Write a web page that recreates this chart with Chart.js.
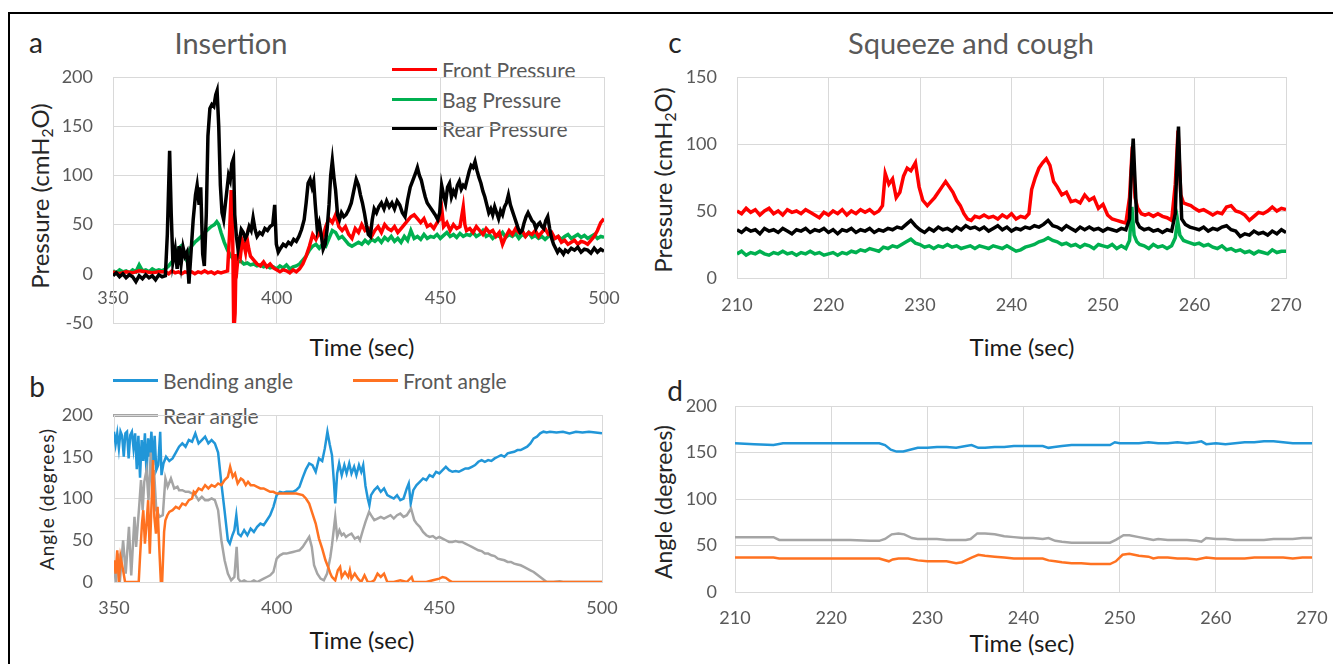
<!DOCTYPE html>
<html>
<head>
<meta charset="utf-8">
<script src="https://cdn.jsdelivr.net/npm/chart.js@4.4.0/dist/chart.umd.min.js"></script>
<style>
  body { margin: 0; background: #fff; }
  #page { position: relative; width: 1333px; height: 664px; overflow: hidden; background: #fff; font-family: Lato, "Open Sans", sans-serif; }
  #frame { position: absolute; left: 8px; top: 12px; width: 1330px; height: 660px; border-left: 2px solid #000; border-top: 2px solid #000; }
  canvas { position: absolute; }
  .txt { position: absolute; white-space: nowrap; transform: translate(-50%, -50%); line-height: 1; }
  .ytitle { position: absolute; white-space: nowrap; transform: translate(-50%, -50%) rotate(-90deg); line-height: 1; color: #262626; }
  .leg { position: absolute; white-space: nowrap; color: #595959; line-height: 1; }
  .leg i { display: inline-block; vertical-align: middle; height: 3px; margin-right: 5px; }
  .leg span { vertical-align: middle; }
  sub { font-size: 0.65em; vertical-align: -0.25em; }
</style>
</head>
<body>
<div id="page">
  <div id="frame"></div>

  <div class="txt" style="left:36px;top:42px;font-size:28px;color:#262626">a</div>
  <div class="txt" style="left:231px;top:42px;font-size:29px;color:#595959">Insertion</div>
  <div class="txt" style="left:675px;top:42px;font-size:28px;color:#262626">c</div>
  <div class="txt" style="left:971px;top:42px;font-size:29px;color:#595959">Squeeze and cough</div>
  <div class="txt" style="left:37px;top:386px;font-size:28px;color:#262626">b</div>
  <div class="txt" style="left:675px;top:390px;font-size:28px;color:#262626">d</div>

  <div class="ytitle" style="left:42px;top:196px;font-size:24px">Pressure (cmH<sub>2</sub>O)</div>
  <div class="ytitle" style="left:665px;top:180px;font-size:24px">Pressure (cmH<sub>2</sub>O)</div>
  <div class="ytitle" style="left:46px;top:499px;font-size:19px;letter-spacing:1px">Angle (degrees)</div>
  <div class="ytitle" style="left:663px;top:502px;font-size:23px">Angle (degrees)</div>

  <div class="txt" style="left:362px;top:347px;font-size:24px;color:#1a1a1a">Time (sec)</div>
  <div class="txt" style="left:362px;top:640px;font-size:24px;color:#1a1a1a">Time (sec)</div>
  <div class="txt" style="left:1022px;top:347px;font-size:24px;color:#1a1a1a">Time (sec)</div>
  <div class="txt" style="left:1022px;top:643px;font-size:24px;color:#1a1a1a">Time (sec)</div>

  <div id="legA"></div>
  <div id="legB"></div>

  <canvas id="chartA" width="620" height="280" style="left:0px;top:60px"></canvas>
  <canvas id="chartB" width="620" height="269" style="left:0px;top:395px"></canvas>
  <canvas id="chartC" width="693" height="260" style="left:640px;top:60px"></canvas>
  <canvas id="chartD" width="693" height="274" style="left:640px;top:390px"></canvas>
</div>

<script>
// ---- data: [time (sec), value] ----

// panel a: insertion, pressure (cmH2O)
const frontPressureA = [[350,2],[352,0],[354,2],[356,1],[358,3],[360,2],[362,1],[364,2],[366,2],[367,0],[368,3],[369,1],[370,2],[371,0],[372,2],[373,1],[374,2],[375,0],[376,2],[377,1],[378,3],[379,1],[380,2],[381,0],[382,2],[383,1],[384,2],[385,3],[385.6,40],[386.1,85],[386.5,60],[386.9,-60],[387.3,-40],[387.6,20],[388,10],[388.5,28],[389,20],[389.5,34],[390,30],[390.5,22],[391,35],[391.5,25],[392,18],[393,14],[394,10],[395,8],[396,12],[397,7],[398,10],[399,6],[400,4],[401,2],[402,4],[403,3],[404,1],[405,4],[406,2],[407,5],[408,10],[409,18],[410,28],[411,40],[412,35],[413,42],[414,36],[415,48],[416,56],[417,52],[418,60],[419,48],[420,44],[421,48],[422,40],[423,36],[424,46],[425,42],[426,50],[427,44],[428,46],[429,38],[430,44],[431,48],[432,42],[433,50],[434,46],[435,44],[436,48],[437,42],[438,46],[439,50],[440,54],[441,58],[442,60],[443,56],[444,52],[445,56],[446,48],[447,50],[448,46],[449,52],[450,56],[450.5,64],[451,48],[452,52],[453,44],[454,50],[455,46],[456,48],[457,68],[457.5,50],[458,44],[459,46],[460,42],[461,48],[462,44],[463,40],[464,46],[465,42],[466,44],[467,38],[468,42],[469,30],[470,38],[471,44],[472,40],[473,46],[474,42],[475,44],[476,38],[477,42],[478,40],[479,44],[480,38],[481,42],[482,46],[483,40],[484,42],[485,36],[486,38],[487,32],[488,34],[489,30],[490,32],[491,34],[492,30],[493,33],[494,32],[495,30],[496,34],[497,38],[498,44],[499,52],[500,56]];

const bagPressureA = [[350,3],[351,1],[352,4],[353,2],[354,3],[355,1],[356,4],[357,2],[358,9],[359,3],[360,4],[361,2],[362,5],[363,3],[364,4],[365,3],[366,5],[367,8],[368,12],[369,18],[370,26],[370.7,28],[371.5,20],[372.3,15],[373,22],[374,28],[375,32],[376,35],[377,38],[378,42],[379,45],[380,48],[381,50],[381.7,53],[382.3,50],[383,42],[384,32],[385,24],[386,18],[387,14],[388,12],[389,13],[390,10],[391,11],[392,9],[393,10],[394,8],[395,9],[396,7],[397,8],[398,6],[399,7],[400,5],[401,8],[402,6],[403,9],[404,5],[405,7],[406,8],[407,10],[408,14],[409,18],[410,24],[411,28],[412,30],[413,26],[414,30],[415,28],[416,36],[417,44],[418,42],[419,36],[420,38],[421,34],[422,30],[423,28],[424,30],[425,32],[426,30],[427,34],[428,31],[429,35],[430,33],[431,36],[432,32],[433,37],[434,34],[435,38],[436,33],[437,36],[438,32],[439,38],[440,34],[441,44],[442,36],[443,38],[444,35],[445,40],[446,36],[447,38],[448,37],[449,40],[450,36],[451,39],[452,42],[453,38],[454,40],[455,37],[456,41],[457,38],[458,40],[459,39],[460,42],[461,38],[462,40],[463,44],[464,38],[465,40],[466,36],[467,39],[468,38],[469,42],[470,37],[471,40],[472,38],[473,41],[474,36],[475,40],[476,38],[477,42],[478,37],[479,39],[480,36],[481,38],[482,35],[483,38],[484,40],[485,36],[486,38],[487,35],[488,38],[489,40],[490,36],[491,38],[492,40],[493,37],[494,39],[495,36],[496,38],[497,40],[498,36],[499,38],[500,37]];

const rearPressureA = [[350,-2],[351,1],[352,-3],[353,0],[354,-4],[355,-1],[356,-3],[357,-8],[358,-2],[359,-5],[360,-1],[361,-4],[362,-2],[363,-6],[364,-1],[365,-3],[366,-2],[366.6,40],[367.3,125],[367.8,60],[368.3,12],[369,25],[369.6,5],[370.2,28],[370.8,10],[371.4,27],[372,18],[372.6,22],[373.2,-10],[373.8,20],[374.5,55],[375.2,80],[375.7,90],[376.3,70],[376.8,88],[377.4,20],[377.9,8],[378.5,60],[379,140],[379.6,168],[380.2,172],[380.8,170],[381.4,182],[381.8,186],[382.3,150],[382.8,90],[383.3,62],[383.8,55],[384.3,70],[384.8,85],[385.3,100],[385.8,95],[386.3,112],[386.8,117],[387.2,60],[387.7,38],[388.2,25],[388.7,35],[389.2,45],[389.8,42],[390.4,36],[391,40],[391.6,48],[392.2,44],[392.8,57],[393.4,45],[394,38],[394.8,42],[395.6,40],[396.4,46],[397.2,44],[398,48],[398.8,50],[399.4,70],[399.9,30],[400.5,22],[401.2,26],[402,30],[402.8,28],[403.6,32],[404.4,30],[405.2,35],[406,33],[406.8,38],[407.6,45],[408.4,55],[409,72],[409.6,92],[410.2,96],[410.8,88],[411.3,94],[411.8,70],[412.4,45],[413,52],[413.6,40],[414.2,25],[414.8,30],[415.4,45],[416,70],[416.5,100],[417,115],[417.5,98],[418,85],[418.6,60],[419.2,55],[419.8,62],[420.5,58],[421.2,60],[422,65],[422.8,72],[423.6,85],[424.3,96],[425,90],[425.6,80],[426.2,72],[426.8,62],[427.4,50],[428,40],[428.6,38],[429.2,55],[429.8,66],[430.5,62],[431.2,68],[432,72],[432.8,66],[433.6,74],[434.4,68],[435.2,72],[436,66],[436.8,74],[437.6,70],[438.4,62],[439.2,58],[440,75],[440.8,88],[441.6,95],[442.4,102],[443,108],[443.6,100],[444.2,95],[444.8,86],[445.4,78],[446,72],[446.8,68],[447.6,64],[448.4,60],[449.2,55],[449.8,62],[450.4,90],[451,80],[451.6,72],[452.2,88],[452.8,92],[453.4,78],[454,84],[454.6,80],[455.2,90],[455.8,94],[456.4,86],[457,90],[457.6,88],[458.2,96],[458.8,104],[459.4,110],[460,108],[460.6,114],[461.2,105],[461.8,98],[462.4,92],[463,84],[463.6,78],[464.2,70],[464.8,62],[465.4,66],[466,60],[466.6,68],[467.2,62],[467.8,56],[468.4,64],[469,60],[469.6,68],[470.2,72],[470.8,80],[471.4,70],[472,64],[472.6,58],[473.2,52],[473.8,46],[474.4,42],[475,44],[475.6,52],[476.2,58],[476.8,62],[477.4,58],[478,54],[478.6,52],[479.2,46],[479.8,50],[480.4,52],[481,48],[481.6,46],[482.2,54],[482.8,58],[483.4,46],[484,36],[484.6,30],[485.2,26],[485.8,22],[486.4,25],[487,23],[487.6,20],[488.2,24],[489,22],[490,26],[491,24],[492,27],[493,22],[494,25],[495,24],[496,21],[497,26],[498,22],[499,25],[500,23]];

// panel b: insertion, angle (degrees)
const bendingAngleB = [[350,180],[350.5,165],[351,178],[351.5,160],[352,180],[352.5,175],[353,150],[353.5,178],[354,180],[354.5,148],[355,176],[355.5,180],[356,160],[356.5,178],[357,135],[357.5,175],[358,125],[358.5,170],[359,145],[359.5,178],[360,130],[360.5,172],[361,150],[361.5,180],[362,140],[362.5,175],[363,134],[363.6,140],[364.2,180],[364.6,128],[365.2,142],[366,150],[367,145],[368,148],[369,155],[370,162],[371,166],[372,162],[373,170],[374,168],[375,178],[376,166],[377,170],[378,174],[379,166],[380,170],[381,166],[382,155],[383,118],[384,85],[385,50],[385.6,46],[386.4,56],[387,62],[387.6,80],[388.2,58],[389,55],[390,62],[391,56],[392,64],[393,60],[394,66],[395,70],[396,68],[397,74],[398,80],[399,90],[400,104],[401,108],[402,107],[403,108],[404,108],[405,108],[406,110],[407,114],[408,125],[409,135],[410,142],[411,140],[412,132],[413,148],[414,145],[414.8,160],[415.6,180],[416.3,165],[417,152],[417.6,120],[418,94],[418.6,130],[419.2,142],[420,128],[420.8,140],[421.5,130],[422.3,142],[423,130],[423.8,138],[424.5,128],[425.3,140],[426,132],[426.6,140],[427.3,115],[428,100],[428.5,92],[429,104],[430,110],[431,114],[432,108],[433,112],[434,104],[435,102],[436,100],[437,104],[438,98],[439,100],[440,112],[440.6,118],[441.2,94],[442,110],[443,116],[444,120],[445,124],[446,122],[447,128],[448,126],[449,132],[450,130],[451,134],[452,138],[453,134],[454,132],[455,133],[456,132],[457,134],[458,136],[459,136],[460,138],[461,140],[462,144],[463,146],[464,144],[465,146],[466,145],[467,148],[468,150],[469,152],[470,150],[471,154],[472,155],[473,156],[474,158],[475,158],[476,160],[477,162],[478,166],[479,172],[480,174],[481,178],[482,180],[483,179],[484,180],[486,179],[488,180],[490,178],[492,180],[494,179],[496,180],[498,179],[500,178]];

const frontAngleB = [[350,26],[350.5,10],[351,38],[351.5,0],[352,30],[352.8,14],[353.4,0],[354,0],[356,0],[357.6,0],[358,30],[358.6,70],[359,86],[359.5,46],[360,70],[360.5,98],[361,34],[361.5,90],[362,146],[362.4,78],[362.9,58],[363.4,90],[363.9,42],[364.4,0],[364.8,0],[365.4,60],[365.8,74],[366.4,80],[367,84],[368,86],[369,90],[370,88],[371,94],[372,92],[373,98],[374,100],[374.5,108],[375,106],[376,112],[377,110],[378,116],[379,112],[380,116],[381,114],[382,118],[383,116],[384,122],[385,126],[385.7,138],[386.5,126],[387.2,130],[388,118],[389,124],[389.7,122],[390.5,116],[391.2,120],[392,116],[393,116],[394,114],[395,112],[396,112],[397,110],[398,108],[399,108],[400,106],[402,106],[404,106],[406,106],[408,104],[409,100],[410,94],[411,82],[412,70],[413,52],[414,40],[415,26],[416,16],[416.5,10],[417,6],[418,2],[418.8,14],[419.5,18],[420,6],[421,12],[422,6],[422.5,14],[423,4],[424,10],[425,4],[426,0],[427,8],[428,0],[429,0],[430,2],[431,10],[432,6],[433,10],[434,0],[436,0],[438,2],[440,0],[441.5,6],[442,0],[444,0],[446,0],[448,2],[450,4],[451,6],[452,5],[453,2],[454,0],[460,0],[470,0],[480,0],[490,0],[500,0]];

const rearAngleB = [[350,18],[350.6,0],[351.3,34],[351.8,0],[352.8,50],[353.6,10],[354.6,66],[355.3,8],[356.3,78],[356.8,42],[357.8,94],[358.3,122],[358.8,86],[359.3,120],[360,134],[360.6,98],[361.3,155],[361.8,106],[362.3,134],[363,86],[364,78],[365,80],[365.8,124],[366.5,114],[367.5,124],[368.5,112],[369.5,114],[370,110],[371,110],[372,108],[373,108],[374,106],[375,104],[376,98],[377,102],[378,98],[379,98],[380,100],[381,98],[382,86],[383,50],[384,26],[385,10],[386,2],[387,6],[387.7,42],[388.2,4],[389,0],[390,2],[391,0],[392,0],[393,2],[394,0],[395,2],[396,4],[397,6],[398,8],[399,12],[400,28],[401,32],[402,34],[403,34],[404,35],[405,36],[406,37],[407,38],[408,42],[409,48],[410,54],[410.8,42],[411.5,20],[412.5,10],[413.5,4],[414.5,2],[415.5,10],[416.5,30],[417,44],[418,78],[418.6,54],[419.3,62],[420,56],[420.6,58],[421.3,54],[422,56],[423,58],[424,52],[425,54],[425.6,50],[426.5,62],[427.3,72],[428.4,84],[429,80],[430,74],[431,76],[432,78],[433,76],[434,78],[435,80],[436,76],[437,80],[438,82],[439,78],[440,80],[441.3,88],[442.3,74],[443,70],[444,66],[445,60],[446,56],[447,54],[448,55],[449,52],[450,54],[451,52],[452,50],[453,48],[454,48],[455,49],[456,48],[457,48],[458,46],[459,44],[460,42],[461,40],[462,38],[463,37],[464,34],[465,34],[466,32],[467,31],[468,28],[469,27],[470,26],[471,24],[472,24],[473,22],[474,21],[475,20],[476,18],[477,16],[478,14],[479,12],[480,9],[481,6],[482,3],[483,0],[485,0],[487,1],[488,0],[490,0],[495,0],[500,0]];

// panel c: squeeze and cough, pressure (cmH2O)
const frontPressureC = [[210,50],[210.5,48],[211,52],[211.5,49],[212,51],[212.5,47],[213,50],[213.5,52],[214,48],[214.5,50],[215,47],[215.5,51],[216,49],[216.5,50],[217,48],[217.5,51],[218,49],[218.5,47],[219,45],[219.5,49],[220,47],[220.5,50],[221,48],[221.5,51],[222,47],[222.5,50],[223,48],[223.5,51],[224,49],[224.5,51],[225,48],[225.5,50],[225.9,54],[226.2,78],[226.6,70],[227,74],[227.4,60],[227.8,64],[228.2,76],[228.6,82],[229,80],[229.5,86],[229.9,68],[230.3,58],[230.8,54],[231.2,57],[231.6,60],[232,64],[232.4,68],[232.8,72],[233.2,68],[233.6,64],[234,58],[234.4,54],[234.8,48],[235.2,44],[235.6,43],[236,46],[236.5,45],[237,47],[237.5,45],[238,46],[238.5,44],[239,47],[239.5,45],[240,48],[240.5,44],[241,46],[241.5,45],[241.9,48],[242.2,66],[242.6,75],[243,82],[243.4,86],[243.8,89],[244.2,84],[244.6,72],[245,68],[245.5,62],[246,64],[246.5,57],[247,58],[247.5,56],[248,62],[248.5,58],[249,60],[249.5,52],[250,55],[250.5,47],[251,44],[251.5,43],[252,42],[252.5,41],[252.9,60],[253.2,98],[253.5,60],[253.8,52],[254.2,48],[254.6,47],[255,48],[255.5,46],[256,48],[256.5,46],[257,45],[257.5,43],[257.9,70],[258.2,110],[258.5,62],[258.8,56],[259.2,55],[259.6,54],[260,52],[260.5,50],[261,51],[261.5,49],[262,47],[262.5,49],[263,48],[263.5,53],[264,54],[264.5,50],[265,49],[265.5,47],[266,43],[266.5,46],[267,49],[267.5,48],[268,50],[268.5,53],[269,50],[269.5,52],[270,51]];

const bagPressureC = [[210,18],[210.5,20],[211,17],[211.5,19],[212,18],[212.5,20],[213,18],[213.5,17],[214,19],[214.5,18],[215,20],[215.5,18],[216,19],[216.5,17],[217,19],[217.5,18],[218,20],[218.5,18],[219,19],[219.5,17],[220,18],[220.5,19],[221,17],[221.5,19],[222,18],[222.5,20],[223,19],[223.5,21],[224,20],[224.5,22],[225,21],[225.5,20],[226,23],[226.5,22],[227,24],[227.5,23],[228,25],[228.5,27],[229,29],[229.5,26],[230,25],[230.5,23],[231,24],[231.5,22],[232,24],[232.5,23],[233,25],[233.5,23],[234,24],[234.5,22],[235,23],[235.5,24],[236,22],[236.5,24],[237,23],[237.5,22],[238,24],[238.5,23],[239,22],[239.5,24],[240,22],[240.5,20],[241,21],[241.5,23],[242,24],[242.5,25],[243,27],[243.5,28],[244,30],[244.5,28],[245,27],[245.5,25],[246,26],[246.5,24],[247,25],[247.5,23],[248,25],[248.5,24],[249,22],[249.5,25],[250,24],[250.5,23],[251,25],[251.5,22],[252,24],[252.5,22],[252.9,28],[253.15,53],[253.4,32],[253.7,27],[254,25],[254.5,24],[255,22],[255.5,25],[256,23],[256.5,24],[257,22],[257.5,24],[257.9,30],[258.15,43],[258.4,32],[258.8,28],[259.2,27],[259.6,26],[260,25],[260.5,26],[261,24],[261.5,25],[262,23],[262.5,22],[263,24],[263.5,21],[264,22],[264.5,20],[265,21],[265.5,19],[266,20],[266.5,18],[267,20],[267.5,19],[268,18],[268.5,21],[269,19],[269.5,20],[270,20]];

const rearPressureC = [[210,36],[210.5,34],[211,37],[211.5,35],[212,36],[212.5,33],[213,37],[213.5,35],[214,36],[214.5,34],[215,37],[215.5,35],[216,33],[216.5,36],[217,35],[217.5,37],[218,34],[218.5,36],[219,35],[219.5,37],[220,34],[220.5,36],[221,33],[221.5,36],[222,35],[222.5,37],[223,34],[223.5,36],[224,35],[224.5,37],[225,34],[225.5,36],[226,35],[226.5,37],[227,36],[227.5,38],[228,37],[228.5,40],[229,43],[229.5,39],[230,36],[230.5,34],[231,37],[231.5,35],[232,38],[232.5,36],[233,37],[233.5,35],[234,38],[234.5,36],[235,39],[235.5,37],[236,38],[236.5,36],[237,38],[237.5,35],[238,37],[238.5,39],[239,36],[239.5,38],[240,35],[240.5,37],[241,36],[241.5,38],[242,37],[242.5,39],[243,38],[243.5,40],[244,43],[244.5,39],[245,38],[245.5,36],[246,39],[246.5,37],[247,35],[247.5,38],[248,36],[248.5,38],[249,36],[249.5,37],[250,35],[250.5,37],[251,36],[251.5,35],[252,37],[252.5,36],[252.9,44],[253.1,80],[253.3,104],[253.45,80],[253.7,42],[254,38],[254.5,36],[255,37],[255.5,35],[256,36],[256.5,34],[257,36],[257.5,35],[257.9,48],[258.1,90],[258.25,113],[258.4,80],[258.6,44],[259,40],[259.5,38],[260,37],[260.5,36],[261,38],[261.5,35],[262,37],[262.5,36],[263,38],[263.5,39],[264,36],[264.5,35],[265,31],[265.5,33],[266,32],[266.5,35],[267,33],[267.5,34],[268,32],[268.5,35],[269,33],[269.5,36],[270,34]];

// panel d: squeeze and cough, angle (degrees)
const bendingAngleD = [[210,160],[212,159],[214,158],[215,160],[217,160],[220,160],[223,160],[225,160],[225.6,158],[226.2,153],[226.8,151],[227.5,151],[228.2,153],[229,155],[230,155],[231,156],[232,156],[233,155],[234,157],[234.6,158],[235.3,155],[236,155],[237,156],[238,156],[239,157],[240,157],[241,157],[242,157],[242.6,155],[243.2,156],[244,157],[245,158],[246,158],[247,158],[248,158],[249,158],[249.5,161],[250,160],[251,160],[252,160],[253,161],[254,160],[255,160],[256,161],[257,160],[258,161],[258.5,162],[259,159],[260,160],[261,159],[262,160],[263,161],[264,161],[265,162],[266,162],[267,161],[268,160],[269,160],[270,160]];

const frontAngleD = [[210,37],[212,37],[214,37],[214.6,36],[216,36],[218,36],[220,36],[222,36],[224,36],[225,36],[226,33],[226.4,35],[227,36],[228,36],[229,34],[230,33],[231,33],[232,33],[233,31],[233.6,32],[234,34],[234.6,37],[235.3,40],[236,39],[237,38],[238,37],[239,36],[240,36],[241,36],[242,36],[242.6,34],[243.3,33],[244,32],[245,31],[246,31],[247,30],[248,30],[249,30],[249.6,33],[250.3,40],[251,41],[252,39],[253,38],[253.5,36],[254,37],[255,37],[256,36],[257,36],[258,35],[259,37],[260,36],[261,36],[262,36],[263,36],[264,37],[265,37],[266,37],[267,37],[268,36],[269,37],[270,37]];

const rearAngleD = [[210,59],[212,59],[214,59],[214.6,56],[216,56],[218,56],[220,56],[222,56],[224,55],[225,55],[225.6,57],[226.3,62],[227,63],[227.6,62],[228.4,58],[229,57],[230,57],[231,57],[232,56],[233,56],[234,56],[234.5,57],[235.2,63],[236,63],[237,62],[238,60],[239,59],[240,58],[241,58],[242,57],[242.6,58],[243.3,55],[244,54],[245,53],[246,53],[247,53],[248,53],[249,53],[249.6,56],[250.4,61],[251,61],[252,59],[253,57],[253.5,56],[254,57],[255,56],[256,56],[257,56],[258,55],[258.5,54],[259,58],[260,57],[261,57],[262,56],[263,56],[264,56],[265,56],[266,57],[267,57],[268,57],[269,58],[270,58]];

// series names and colours
const pressureNames = ['Front Pressure', 'Bag Pressure', 'Rear Pressure'];
const pressureColors = ['#ff0000', '#00b050', '#000000'];
const angleNames = ['Bending angle', 'Front angle', 'Rear angle'];
const angleColors = ['#2196d8', '#ff7221', '#a5a5a5'];

const fontFamily = 'Lato, "Open Sans", sans-serif';
const gridColor = '#d9d9d9';
const tickColor = '#595959';

function lineSet(label, pts, color, width, order) {
  return {
    label: label,
    data: pts.map(p => ({ x: p[0], y: p[1] })),
    borderColor: color,
    backgroundColor: color,
    borderWidth: width,
    pointRadius: 0,
    tension: 0,
    fill: false,
    order: order
  };
}

// fixed axis sizes so the plot areas line up with the figure;
// the label overhang padding is zeroed, layout.padding does that job
function axes(o) {
  const x = {
    type: 'linear', min: o.xMin, max: o.xMax, position: o.xPos,
    ticks: { stepSize: o.xStep, color: tickColor, font: { family: fontFamily, size: 18 }, padding: o.xPad, maxRotation: 0, autoSkip: false },
    grid: { color: gridColor, drawTicks: false },
    border: { color: gridColor },
    afterFit: s => {
      if (o.xH !== undefined) s.height = o.xH;
      s.paddingLeft = 0; s.paddingRight = 0; s.paddingTop = 0; s.paddingBottom = 0;
    }
  };
  const y = {
    type: 'linear', min: o.yMin, max: o.yMax,
    ticks: { stepSize: o.yStep, color: tickColor, font: { family: fontFamily, size: 18 }, padding: o.yPad },
    grid: { color: gridColor, drawTicks: false },
    border: { color: gridColor },
    afterFit: s => {
      s.width = o.yW;
      s.paddingLeft = 0; s.paddingRight = 0; s.paddingTop = 0; s.paddingBottom = 0;
    }
  };
  return { x: x, y: y };
}

function makeChart(id, datasets, scales, pad) {
  return new Chart(document.getElementById(id), {
    type: 'line',
    data: { datasets: datasets },
    options: {
      responsive: false,
      animation: false,
      layout: { padding: pad },
      plugins: { legend: { display: false }, tooltip: { enabled: false } },
      scales: scales
    }
  });
}

function buildLegend(id, names, colors, spots) {
  const box = document.getElementById(id);
  names.forEach((n, i) => {
    const d = document.createElement('div');
    d.className = 'leg';
    d.style.left = spots[i][0] + 'px';
    d.style.top = spots[i][1] + 'px';
    d.style.fontSize = '21px';
    d.innerHTML = '<i style="width:45px;background:' + colors[i] + '"></i><span>' + n + '</span>';
    box.appendChild(d);
  });
}

makeChart('chartA', [
  lineSet(pressureNames[0], frontPressureA, pressureColors[0], 3.5, 1),
  lineSet(pressureNames[1], bagPressureA, pressureColors[1], 3.5, 2),
  lineSet(pressureNames[2], rearPressureA, pressureColors[2], 3.5, 0)
], axes({ xMin: 350, xMax: 500, xStep: 50, xPos: { y: 0 }, xPad: 14, yMin: -50, yMax: 200, yStep: 50, yPad: 20, yW: 113 }),
  { top: 17, right: 16, bottom: 17, left: 0 });

makeChart('chartB', [
  lineSet(angleNames[0], bendingAngleB, angleColors[0], 2.5, 2),
  lineSet(angleNames[1], frontAngleB, angleColors[1], 2.5, 0),
  lineSet(angleNames[2], rearAngleB, angleColors[2], 2.5, 1)
], axes({ xMin: 350, xMax: 500, xStep: 50, xPos: 'bottom', xPad: 15, xH: 82, yMin: 0, yMax: 200, yStep: 50, yPad: 21, yW: 114 }),
  { top: 20, right: 18, bottom: 0, left: 0 });

makeChart('chartC', [
  lineSet(pressureNames[0], frontPressureC, pressureColors[0], 3.5, 1),
  lineSet(pressureNames[1], bagPressureC, pressureColors[1], 3.5, 2),
  lineSet(pressureNames[2], rearPressureC, pressureColors[2], 3.5, 0)
], axes({ xMin: 210, xMax: 270, xStep: 10, xPos: 'bottom', xPad: 16, xH: 42, yMin: 0, yMax: 150, yStep: 50, yPad: 20, yW: 97 }),
  { top: 17, right: 47, bottom: 0, left: 0 });

makeChart('chartD', [
  lineSet(angleNames[0], bendingAngleD, angleColors[0], 2.5, 2),
  lineSet(angleNames[1], frontAngleD, angleColors[1], 2.5, 0),
  lineSet(angleNames[2], rearAngleD, angleColors[2], 2.5, 1)
], axes({ xMin: 210, xMax: 270, xStep: 10, xPos: 'bottom', xPad: 15, xH: 72, yMin: 0, yMax: 200, yStep: 50, yPad: 18, yW: 95 }),
  { top: 16, right: 21, bottom: 0, left: 0 });

buildLegend('legA', pressureNames, pressureColors, [[392, 56], [392, 86], [392, 115]]);
buildLegend('legB', angleNames, angleColors, [[113, 367], [353, 367], [113, 402]]);
</script>
</body>
</html>
